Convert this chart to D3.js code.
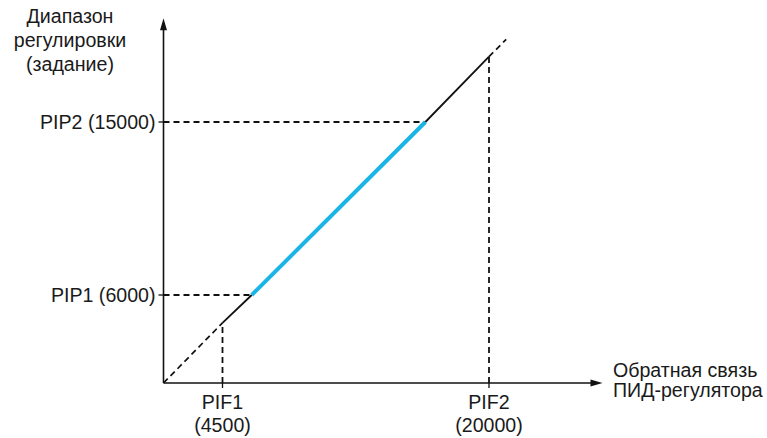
<!DOCTYPE html>
<html>
<head>
<meta charset="utf-8">
<script src="https://cdn.jsdelivr.net/npm/d3@7/dist/d3.min.js"></script>
<style>
  html, body { margin: 0; padding: 0; background: #fff; }
  svg { display: block; }
  text { font-family: "Liberation Sans", Arial, sans-serif; font-size: 19.6px; fill: #1a1a1a; }
</style>
</head>
<body>
<svg id="chart" width="767" height="438"></svg>
<script>
// ---- data (schematic values) ----
const xTickValues = [4500, 20000];
const xTickNames = ["PIF1", "PIF2"];
const xTickLabels = ["(4500)", "(20000)"];
const yTickValues = [6000, 15000];
const yTickLabels = ["PIP1 (6000)", "PIP2 (15000)"];
const yTitleLines = ["Диапазон", "регулировки", "(задание)"];
const xTitleLines = ["Обратная связь", "ПИД-регулятора"];
const axisMax = { x: 26600, y: 20400 };

// characteristic line segments (feedback -> setpoint)
const leadInPoints = [[0, 0], [4500, 4100]];
const lowSolidPoints = [[4500, 4100], [6200, 6000]];
const activePoints = [[6200, 6000], [16300, 15000]];
const highSolidPoints = [[16300, 15000], [20000, 18400]];
const tailPoints = [[20000, 18400], [21000, 19300]];
// projections of range limits onto the axes
const xGuideTops = [4100, 18400];
const yGuideEnds = [6200, 16300];

// ---- scales (schematic, piecewise linear) ----
const x = d3.scaleLinear().domain([0, 4500, 20000]).range([163.5, 222.5, 489]);
const y = d3.scaleLinear().domain([0, 6000, 15000]).range([383, 295, 122]);

const svg = d3.select("#chart");
const black = "#111";
const blue = "#1bb4e6";
const dash = "6,4";

// dashed guides
const guides = svg.append("g").attr("stroke", black).attr("stroke-width", 1.8)
  .attr("stroke-dasharray", dash).attr("fill", "none");
xTickValues.forEach((v, i) => {
  guides.append("line").attr("x1", x(v)).attr("x2", x(v))
    .attr("y1", y(0)).attr("y2", y(xGuideTops[i]));
});
yTickValues.forEach((v, i) => {
  guides.append("line").attr("x1", x(0)).attr("x2", x(yGuideEnds[i]))
    .attr("y1", y(v)).attr("y2", y(v));
});

// line
const line = d3.line().x(d => x(d[0])).y(d => y(d[1]));
svg.append("path").datum(leadInPoints).attr("d", line)
  .attr("stroke", black).attr("stroke-width", 1.7).attr("stroke-dasharray", dash).attr("fill", "none");
svg.append("path").datum(tailPoints).attr("d", line)
  .attr("stroke", black).attr("stroke-width", 1.7).attr("stroke-dasharray", dash).attr("fill", "none");
[lowSolidPoints, highSolidPoints].forEach(p => {
  svg.append("path").datum(p).attr("d", line)
    .attr("stroke", black).attr("stroke-width", 1.8).attr("fill", "none");
});
svg.append("path").datum(activePoints).attr("d", line)
  .attr("stroke", blue).attr("stroke-width", 4).attr("fill", "none");

// axes
const xEnd = x(axisMax.x), yEnd = y(axisMax.y);
svg.append("line").attr("x1", x(0)).attr("x2", xEnd - 6).attr("y1", y(0)).attr("y2", y(0))
  .attr("stroke", black).attr("stroke-width", 1.6);
svg.append("line").attr("x1", x(0)).attr("x2", x(0)).attr("y1", y(0)).attr("y2", yEnd + 6)
  .attr("stroke", black).attr("stroke-width", 1.6);
svg.append("path")
  .attr("d", `M${xEnd},${y(0)} L${xEnd - 12},${y(0) - 3.5} L${xEnd - 12},${y(0) + 3.5} Z`)
  .attr("fill", black);
svg.append("path")
  .attr("d", `M${x(0)},${yEnd} L${x(0) - 3.5},${yEnd + 12} L${x(0) + 3.5},${yEnd + 12} Z`)
  .attr("fill", black);

// ticks
yTickValues.forEach(v => {
  svg.append("line").attr("x1", x(0) - 5).attr("x2", x(0)).attr("y1", y(v)).attr("y2", y(v))
    .attr("stroke", black).attr("stroke-width", 1.3);
});
xTickValues.forEach(v => {
  svg.append("line").attr("x1", x(v)).attr("x2", x(v)).attr("y1", y(0)).attr("y2", y(0) + 5)
    .attr("stroke", black).attr("stroke-width", 1.3);
});

// tick labels
yTickValues.forEach((v, i) => {
  svg.append("text").attr("x", x(0) - 8).attr("y", y(v) + 6.5)
    .attr("text-anchor", "end").text(yTickLabels[i]);
});
xTickValues.forEach((v, i) => {
  svg.append("text").attr("x", x(v)).attr("y", 409).attr("text-anchor", "middle").text(xTickNames[i]);
  svg.append("text").attr("x", x(v)).attr("y", 432).attr("text-anchor", "middle").text(xTickLabels[i]);
});

// axis titles
yTitleLines.forEach((t, i) => {
  svg.append("text").attr("x", 70).attr("y", 23 + i * 24).attr("text-anchor", "middle").text(t);
});
xTitleLines.forEach((t, i) => {
  svg.append("text").attr("x", 613).attr("y", 377 + i * 20).attr("text-anchor", "start").text(t);
});
</script>
</body>
</html>
